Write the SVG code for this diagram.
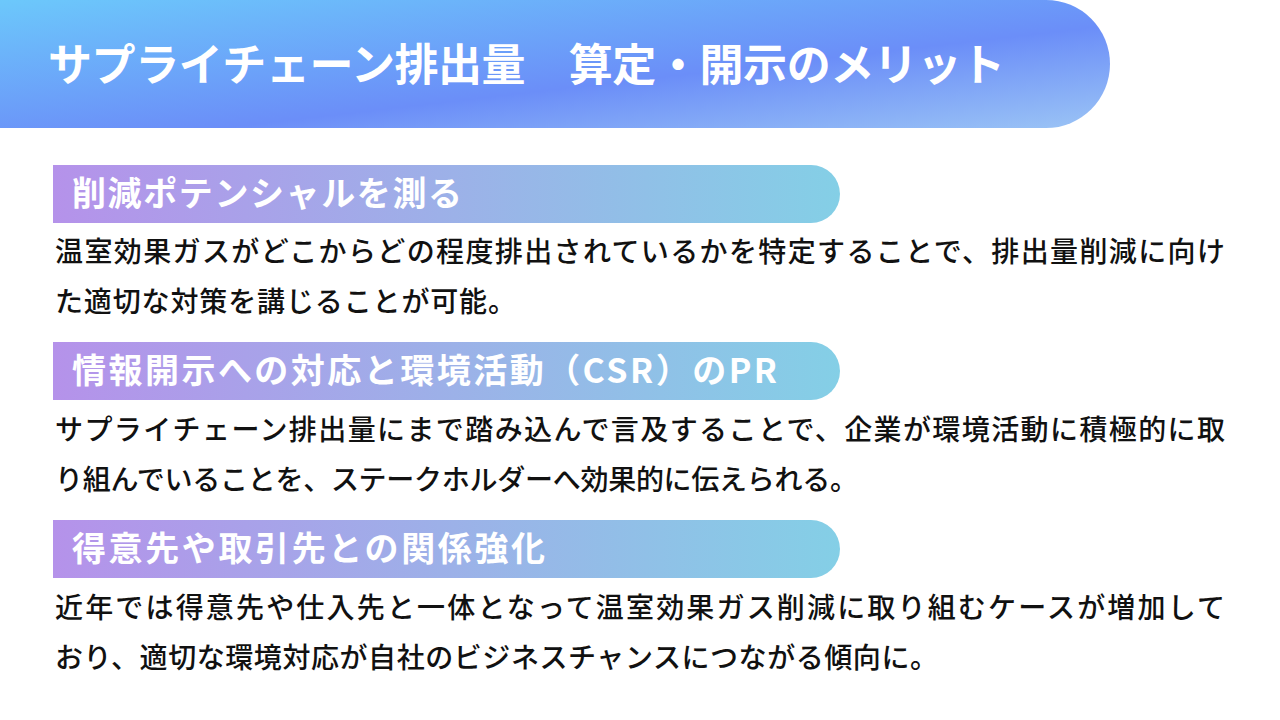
<svg xmlns="http://www.w3.org/2000/svg" width="1280" height="720" viewBox="0 0 1280 720">
<defs>
<linearGradient id="hg" x1="0" y1="0" x2="1" y2="1">
<stop offset="0" stop-color="#6cc8fb"/><stop offset="0.6" stop-color="#6b8ef8"/><stop offset="1" stop-color="#9bc4f5"/>
</linearGradient>
<linearGradient id="sg" x1="0" y1="0" x2="1" y2="0">
<stop offset="0" stop-color="#b592ea"/><stop offset="1" stop-color="#84cfe6"/>
</linearGradient>
<style>
.t{font-family:"Noto Sans CJK JP","Noto Sans",sans-serif;font-weight:700;fill:#fff}
.b{font-family:"Noto Sans CJK JP","Noto Sans",sans-serif;font-weight:500;font-size:28px;fill:#111}
.s{font-size:34px}
</style>
</defs>
<rect width="1280" height="720" fill="#fff"/>
<g id="header">
<path d="M0 0H1046A64 64 0 0 1 1046 128H0Z" fill="url(#hg)"/>
<text class="t" x="48" y="81" font-size="44" textLength="957">サプライチェーン排出量　算定・開示のメリット</text>
</g>
<g id="sec1">
<path d="M53 165H811A29 29 0 0 1 811 223H53Z" fill="url(#sg)"/>
<text class="t s" x="72" y="206" textLength="390">削減ポテンシャルを測る</text>
<text class="b" x="55" y="262" textLength="1170">温室効果ガスがどこからどの程度排出されているかを特定することで、排出量削減に向け</text>
<text class="b" x="55" y="312" textLength="461">た適切な対策を講じることが可能。</text>
</g>
<g id="sec2">
<path d="M53 342H811A29 29 0 0 1 811 400H53Z" fill="url(#sg)"/>
<text class="t s" x="72" y="383" textLength="705">情報開示への対応と環境活動（CSR）のPR</text>
<text class="b" x="55" y="440" textLength="1170">サプライチェーン排出量にまで踏み込んで言及することで、企業が環境活動に積極的に取</text>
<text class="b" x="55" y="490" textLength="803">り組んでいることを、ステークホルダーへ効果的に伝えられる。</text>
</g>
<g id="sec3">
<path d="M53 520H811A29 29 0 0 1 811 578H53Z" fill="url(#sg)"/>
<text class="t s" x="72" y="561" textLength="473">得意先や取引先との関係強化</text>
<text class="b" x="55" y="618" textLength="1170">近年では得意先や仕入先と一体となって温室効果ガス削減に取り組むケースが増加して</text>
<text class="b" x="55" y="668" textLength="883">おり、適切な環境対応が自社のビジネスチャンスにつながる傾向に。</text>
</g>
<g id="connectors"/>
</svg>
